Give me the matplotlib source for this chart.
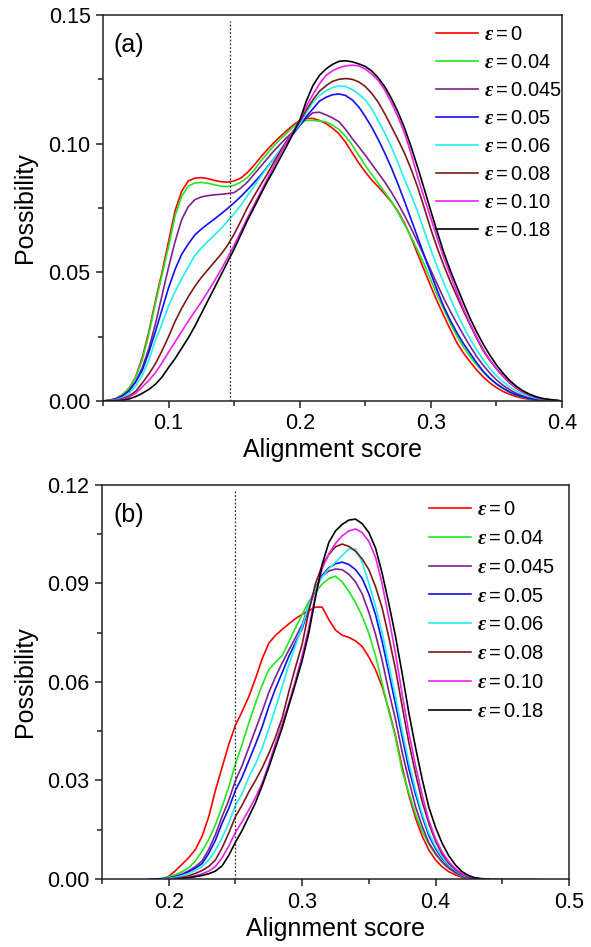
import numpy as np
import matplotlib.pyplot as plt
from matplotlib.ticker import MultipleLocator, FormatStrFormatter

plt.rcParams['font.family'] = ['Liberation Sans', 'DejaVu Sans']
plt.rcParams['mathtext.fontset'] = 'custom'
plt.rcParams['mathtext.it'] = 'Liberation Serif:italic:bold'
plt.rcParams['mathtext.rm'] = 'Liberation Sans'

eps_values = ['0', '0.04', '0.045', '0.05', '0.06', '0.08', '0.10', '0.18']
colors = ['#ff0000', '#1fe81f', '#7d2190', '#1010f0', '#1ff0f0', '#7a1a1a', '#f01ff0', '#000000']

# ---- panel (a): distributions sampled every 0.005 from 0.05 to 0.40 ----
x_a = np.round(np.arange(0.05, 0.4001, 0.005), 3)
red_a = [0, 0.0003, 0.001, 0.0025, 0.005, 0.0095, 0.017, 0.027, 0.039, 0.050,
         0.062, 0.074, 0.0815, 0.0855, 0.0866, 0.0868, 0.0864, 0.0857, 0.0852, 0.085,
         0.0855, 0.0866, 0.0887, 0.0915, 0.0946, 0.0975, 0.1002, 0.1027, 0.105, 0.1072,
         0.109, 0.1098, 0.1098, 0.109, 0.1078, 0.106, 0.1038, 0.1005, 0.0965, 0.0925,
         0.089, 0.0858, 0.0832, 0.0803, 0.0773, 0.0736, 0.069, 0.0634, 0.057, 0.0508,
         0.0445, 0.0385, 0.033, 0.0276, 0.0225, 0.0185, 0.0152, 0.012, 0.0093, 0.007,
         0.0052, 0.0037, 0.0026, 0.0017, 0.0011, 0.0006, 0.0003, 0.0002, 0.0001, 0,
         0]
green_a = [0, 0.0003, 0.001, 0.0025, 0.005, 0.0092, 0.016, 0.026, 0.038, 0.049,
           0.060, 0.072, 0.0795, 0.0835, 0.0847, 0.0849, 0.0846, 0.084, 0.0835, 0.0833,
           0.0838, 0.085, 0.0868, 0.0895, 0.093, 0.096, 0.099, 0.1017, 0.104, 0.1065,
           0.1085, 0.109, 0.109, 0.1088, 0.1085, 0.1072, 0.1055, 0.1028, 0.0995, 0.0955,
           0.0915, 0.088, 0.0845, 0.081, 0.0775, 0.0732, 0.0685, 0.0637, 0.0585, 0.053,
           0.047, 0.041, 0.0355, 0.030, 0.025, 0.0208, 0.0172, 0.014, 0.0112, 0.0087,
           0.0065, 0.0048, 0.0034, 0.0023, 0.0015, 0.0009, 0.0005, 0.0003, 0.0001, 0,
           0]
purple_a = [0, 0.0002, 0.0008, 0.002, 0.004, 0.0075, 0.013, 0.0205, 0.030, 0.041,
            0.052, 0.062, 0.0705, 0.0755, 0.0782, 0.0793, 0.0798, 0.0801, 0.0803, 0.0806,
            0.081, 0.0827, 0.085, 0.088, 0.091, 0.094, 0.097, 0.0997, 0.1023, 0.1047,
            0.107, 0.1098, 0.112, 0.1122, 0.1112, 0.110, 0.1085, 0.1055, 0.102, 0.0988,
            0.0955, 0.092, 0.0885, 0.085, 0.081, 0.0767, 0.072, 0.067, 0.0617, 0.0563,
            0.0508, 0.0452, 0.0397, 0.0347, 0.030, 0.0255, 0.0212, 0.0172, 0.0138, 0.0108,
            0.0082, 0.0061, 0.0044, 0.003, 0.002, 0.0012, 0.0007, 0.0004, 0.0002, 0.0001,
            0]
blue_a = [0, 0.0002, 0.0008, 0.002, 0.004, 0.0075, 0.012, 0.019, 0.027, 0.0355,
          0.044, 0.0512, 0.057, 0.061, 0.0645, 0.0668, 0.0688, 0.0707, 0.0727, 0.0748,
          0.077, 0.0794, 0.082, 0.0847, 0.0876, 0.0907, 0.094, 0.0972, 0.1005, 0.1037,
          0.107, 0.1105, 0.1135, 0.1165, 0.118, 0.119, 0.1193, 0.1187, 0.117, 0.1143,
          0.1105, 0.1063, 0.1015, 0.0962, 0.0905, 0.0842, 0.0775, 0.0705, 0.0635, 0.0565,
          0.0495, 0.0428, 0.0365, 0.0312, 0.0264, 0.0222, 0.0185, 0.0148, 0.0115, 0.0088,
          0.0067, 0.005, 0.0035, 0.0024, 0.0016, 0.001, 0.0006, 0.0004, 0.0002, 0.0001,
          0]
cyan_a = [0, 0.0001, 0.0005, 0.0013, 0.003, 0.0058, 0.010, 0.016, 0.0236, 0.030,
          0.037, 0.0425, 0.0475, 0.052, 0.0565, 0.0595, 0.062, 0.0645, 0.067, 0.0698,
          0.0728, 0.076, 0.0797, 0.0833, 0.087, 0.0905, 0.094, 0.0975, 0.101, 0.1042,
          0.1075, 0.112, 0.116, 0.1187, 0.1205, 0.1218, 0.1224, 0.1222, 0.121, 0.1193,
          0.117, 0.1135, 0.1088, 0.104, 0.0985, 0.0925, 0.086, 0.080, 0.0735, 0.066,
          0.0588, 0.052, 0.0457, 0.0397, 0.034, 0.0288, 0.024, 0.0198, 0.016, 0.0126,
          0.0098, 0.0075, 0.0055, 0.004, 0.0027, 0.0018, 0.0011, 0.0007, 0.0004, 0.0002,
          0]
brown_a = [0, 0.0001, 0.0003, 0.0009, 0.002, 0.0038, 0.007, 0.0105, 0.0145, 0.0195,
           0.025, 0.031, 0.036, 0.0405, 0.0445, 0.048, 0.051, 0.054, 0.057, 0.0605,
           0.0648, 0.0698, 0.075, 0.0795, 0.0838, 0.088, 0.0925, 0.0968, 0.101, 0.1048,
           0.1085, 0.113, 0.117, 0.1203, 0.1225, 0.1242, 0.125, 0.1253, 0.125, 0.124,
           0.1222, 0.1195, 0.116, 0.1115, 0.1065, 0.1015, 0.0962, 0.090, 0.083, 0.075,
           0.0667, 0.0593, 0.0525, 0.0462, 0.0405, 0.0348, 0.0295, 0.0243, 0.0195, 0.0157,
           0.0125, 0.0096, 0.007, 0.005, 0.0035, 0.0023, 0.0014, 0.0008, 0.0005, 0.0002,
           0]
magenta_a = [0, 0.0001, 0.0002, 0.0006, 0.0015, 0.003, 0.0055, 0.008, 0.011, 0.0148,
             0.019, 0.023, 0.027, 0.031, 0.0348, 0.0385, 0.0425, 0.0467, 0.051, 0.0557,
             0.0605, 0.0657, 0.071, 0.076, 0.081, 0.086, 0.091, 0.0958, 0.1005, 0.1048,
             0.109, 0.1145, 0.119, 0.1232, 0.1265, 0.1283, 0.1295, 0.1302, 0.1305, 0.1302,
             0.129, 0.127, 0.1245, 0.1207, 0.1158, 0.1103, 0.104, 0.096, 0.087, 0.0788,
             0.071, 0.063, 0.0555, 0.0487, 0.042, 0.0357, 0.030, 0.0248, 0.020, 0.016,
             0.0125, 0.0096, 0.0072, 0.0052, 0.0036, 0.0024, 0.0015, 0.0009, 0.0005, 0.0002,
             0]
black_a = [0, 0, 0, 0.0003, 0.0008, 0.0017, 0.003, 0.0045, 0.0065, 0.0093,
           0.013, 0.0165, 0.0205, 0.0245, 0.029, 0.034, 0.039, 0.044, 0.049, 0.054,
           0.059, 0.0645, 0.070, 0.075, 0.080, 0.085, 0.0895, 0.0943, 0.099, 0.104,
           0.109, 0.1165, 0.1225, 0.1265, 0.129, 0.1308, 0.132, 0.1322, 0.1318, 0.131,
           0.130, 0.1282, 0.1255, 0.122, 0.1175, 0.1122, 0.106, 0.0987, 0.0907, 0.0823,
           0.0738, 0.0655, 0.0575, 0.0505, 0.0442, 0.038, 0.032, 0.0268, 0.022, 0.0178,
           0.014, 0.0108, 0.008, 0.0058, 0.004, 0.0027, 0.0017, 0.001, 0.0006, 0.0003,
           0]
series_a = [red_a, green_a, purple_a, blue_a, cyan_a, brown_a, magenta_a, black_a]

# ---- panel (b): distributions sampled every 0.005, each with its own start ----
x_b = np.round(np.arange(0.185, 0.4751, 0.005), 3)
red_b = (0.195, [0, 0.0008, 0.0025, 0.0045, 0.0065, 0.009, 0.013, 0.019, 0.027, 0.034, 0.041, 0.0468,
                 0.051, 0.0555, 0.061, 0.067, 0.0718, 0.0742, 0.076, 0.0777, 0.0793, 0.0806, 0.0817,
                 0.0828, 0.0828, 0.079, 0.0758, 0.0742, 0.0736, 0.0725, 0.0708, 0.0676, 0.0637, 0.0585,
                 0.0515, 0.0435, 0.034, 0.0255, 0.0185, 0.013, 0.0088, 0.0058, 0.0037, 0.0022, 0.0012,
                 0.0005, 0.0001, 0, 0, 0])
green_b = (0.19, [0, 0.0002, 0.0006, 0.0013, 0.0022, 0.0034, 0.0055, 0.0085, 0.012, 0.0165, 0.022, 0.028,
                  0.035, 0.041, 0.0475, 0.0535, 0.059, 0.0638, 0.066, 0.068, 0.0722, 0.0765, 0.0805, 0.0845,
                  0.0875, 0.0898, 0.0915, 0.0922, 0.0905, 0.0876, 0.0842, 0.080, 0.0748, 0.068, 0.0595,
                  0.051, 0.043, 0.0328, 0.0262, 0.0198, 0.0145, 0.0105, 0.0075, 0.005, 0.0032, 0.0018,
                  0.0008, 0.0003, 0, 0, 0])
purple_b = (0.195, [0, 0.0003, 0.0008, 0.0015, 0.0025, 0.0038, 0.0055, 0.009, 0.0135, 0.019, 0.024,
                    0.030, 0.0345, 0.040, 0.0455, 0.051, 0.0568, 0.0615, 0.0658, 0.0697, 0.0735, 0.0775,
                    0.0835, 0.0888, 0.0922, 0.0938, 0.0944, 0.0942, 0.0928, 0.0905, 0.0868, 0.0812, 0.0745,
                    0.0665, 0.057, 0.0485, 0.0385, 0.030, 0.022, 0.016, 0.011, 0.0078, 0.0052, 0.0033,
                    0.0019, 0.0009, 0.0003, 0.0001, 0, 0])
blue_b = (0.185, [0, 0, 0.0001, 0.0003, 0.0007, 0.0013, 0.0022, 0.0033, 0.0047, 0.0078, 0.0118, 0.017,
                  0.0215, 0.027, 0.031, 0.036, 0.041, 0.0463, 0.0525, 0.058, 0.0628, 0.0678, 0.072,
                  0.0762, 0.0825, 0.0885, 0.0925, 0.0948, 0.096, 0.0965, 0.0958, 0.0942, 0.0915, 0.0868,
                  0.0805, 0.0722, 0.0628, 0.0532, 0.0432, 0.0335, 0.0258, 0.019, 0.0132, 0.0092, 0.0062,
                  0.004, 0.0023, 0.0011, 0.0004, 0.0001, 0, 0])
cyan_b = (0.195, [0, 0.0002, 0.0005, 0.001, 0.0017, 0.0026, 0.0038, 0.0058, 0.0088, 0.0125, 0.017,
                  0.0225, 0.026, 0.031, 0.035, 0.0398, 0.0458, 0.052, 0.0585, 0.0652, 0.0712, 0.0768,
                  0.0835, 0.0885, 0.092, 0.0945, 0.0965, 0.0985, 0.1005, 0.1005, 0.0965, 0.090, 0.083,
                  0.075, 0.065, 0.0555, 0.045, 0.0355, 0.027, 0.0198, 0.014, 0.0098, 0.0066, 0.0042,
                  0.0025, 0.0012, 0.0005, 0.0001, 0, 0])
brown_b = (0.2, [0, 0.0002, 0.0005, 0.001, 0.0017, 0.0026, 0.0038, 0.0058, 0.0095, 0.014, 0.019,
                 0.0225, 0.0265, 0.030, 0.0338, 0.0382, 0.0432, 0.049, 0.057, 0.0645, 0.0715, 0.0815,
                 0.090, 0.0955, 0.0988, 0.1012, 0.102, 0.1013, 0.0998, 0.0975, 0.0942, 0.089, 0.0825,
                 0.0735, 0.0638, 0.0525, 0.0415, 0.032, 0.0235, 0.0168, 0.0115, 0.0075, 0.0048, 0.0028,
                 0.0014, 0.0006, 0.0002, 0, 0])
magenta_b = (0.2, [0, 0.0001, 0.0003, 0.0006, 0.001, 0.0016, 0.0024, 0.0038, 0.0065, 0.010, 0.0142,
                   0.0175, 0.021, 0.0248, 0.0292, 0.035, 0.0412, 0.0472, 0.0535, 0.0605, 0.068, 0.0765,
                   0.0865, 0.0945, 0.099, 0.1022, 0.1045, 0.106, 0.1066, 0.1055, 0.1028, 0.098, 0.0898,
                   0.0795, 0.0685, 0.0562, 0.0445, 0.0345, 0.0255, 0.0178, 0.0122, 0.0082, 0.0052,
                   0.0031, 0.0016, 0.0007, 0.0002, 0, 0, 0, 0, 0, 0, 0, 0, 0])
black_b = (0.205, [0, 0.0002, 0.0004, 0.0007, 0.0011, 0.0016, 0.0024, 0.004, 0.0072, 0.0112, 0.0148,
                   0.019, 0.0232, 0.0284, 0.034, 0.040, 0.046, 0.0528, 0.0595, 0.0665, 0.075, 0.0858,
                   0.0958, 0.1025, 0.106, 0.108, 0.1093, 0.1096, 0.1082, 0.1055, 0.1008, 0.093, 0.0838,
                   0.0738, 0.0625, 0.0505, 0.040, 0.0303, 0.0218, 0.0157, 0.0108, 0.007, 0.0042, 0.0022,
                   0.001, 0.0003, 0.0001, 0])
series_b = [red_b, green_b, purple_b, blue_b, cyan_b, brown_b, magenta_b, black_b]


def on_grid(start, vals):
    y = np.full(x_b.size, np.nan)
    i = int(round((start - x_b[0]) / 0.005))
    y[i:i + len(vals)] = vals
    return y


def style_axes(ax, xlim, ylim, xmaj, ymaj, xfmt, yfmt):
    ax.set_xlim(*xlim)
    ax.set_ylim(*ylim)
    ax.xaxis.set_major_locator(MultipleLocator(xmaj))
    ax.xaxis.set_minor_locator(MultipleLocator(xmaj / 2))
    ax.yaxis.set_major_locator(MultipleLocator(ymaj))
    ax.yaxis.set_minor_locator(MultipleLocator(ymaj / 2))
    ax.xaxis.set_major_formatter(FormatStrFormatter(xfmt))
    ax.yaxis.set_major_formatter(FormatStrFormatter(yfmt))
    ax.tick_params(which='both', direction='out', width=1.1, color='#222222',
                   labelsize=15.5, top=False, right=False)
    ax.tick_params(which='major', length=5, pad=4)
    ax.tick_params(which='minor', length=3.5)
    for s in ax.spines.values():
        s.set_linewidth(1.1)
        s.set_color('#222222')
    ax.set_xlabel('Alignment score', fontsize=18)
    ax.set_ylabel('Possibility', fontsize=18)
    ax.xaxis.set_label_coords(0.5, -0.096)


def add_legend(ax, anchor, spacing):
    ax.legend(loc='upper left', bbox_to_anchor=anchor, frameon=False, fontsize=14.5,
              handlelength=2.1, handletextpad=0.3, labelspacing=spacing, borderpad=0,
              borderaxespad=0)


fig = plt.figure(figsize=(5.91, 9.47), dpi=100)
ax1 = fig.add_axes([0.1743, 0.5766, 0.7766, 0.4076])
ax2 = fig.add_axes([0.1726, 0.0718, 0.7902, 0.4161])

for ys, c, e in zip(series_a, colors, eps_values):
    ax1.plot(x_a, ys, color=c, lw=1.2, label=r'$ε = %s$' % e)
ax1.axvline(0.147, ymax=0.985, color='#333333', lw=0.9, ls=(0, (1.5, 1.5)))
style_axes(ax1, (0.05, 0.4), (0, 0.15), 0.1, 0.05, '%.1f', '%.2f')
ax1.yaxis.set_label_coords(-0.144, 0.5)
ax1.text(0.022, 0.922, '(a)', transform=ax1.transAxes, fontsize=18, va='center')
add_legend(ax1, (0.7255, 0.975), 0.45)

for (start, vals), c, e in zip(series_b, colors, eps_values):
    ax2.plot(x_b, on_grid(start, vals), color=c, lw=1.2, label=r'$ε = %s$' % e)
ax2.axvline(0.25, ymax=0.985, color='#333333', lw=0.9, ls=(0, (1.5, 1.5)))
style_axes(ax2, (0.15, 0.5), (0, 0.12), 0.1, 0.03, '%.1f', '%.2f')
ax2.yaxis.set_label_coords(-0.139, 0.5)
ax2.text(0.0236, 0.924, '(b)', transform=ax2.transAxes, fontsize=18, va='center')
add_legend(ax2, (0.700, 0.962), 0.49)

fig.savefig('out.png', dpi=100)
